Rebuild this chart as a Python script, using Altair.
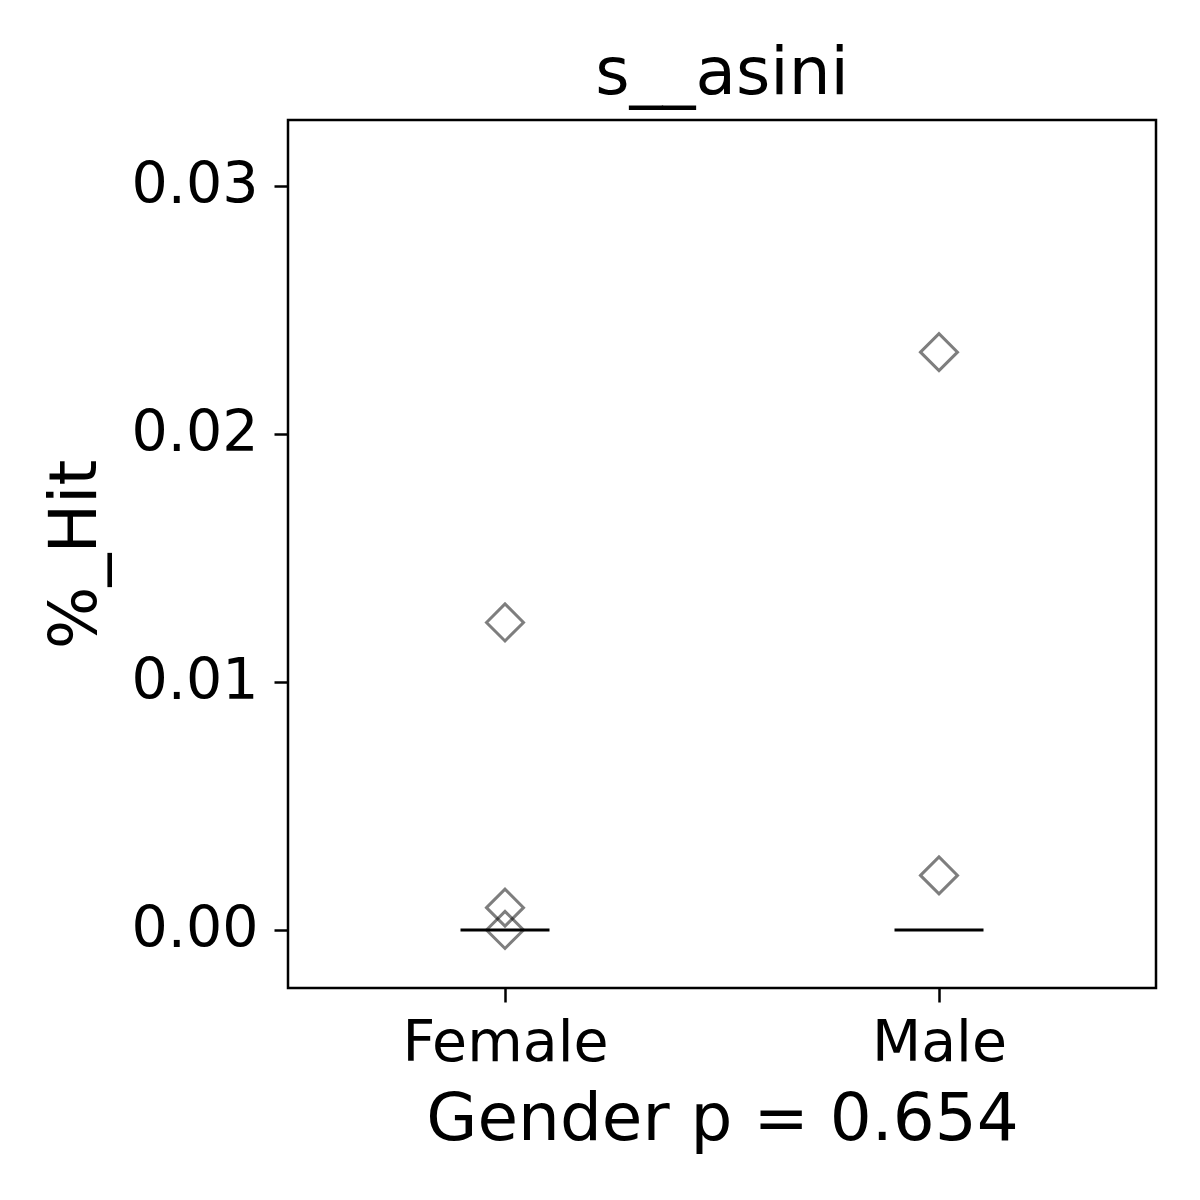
import altair as alt
import pandas as pd

# Data
groups = ["Female", "Female", "Female", "Male", "Male"]
hits = [0.0124, 0.0009, 0.0, 0.0233, 0.0022]
median_groups = ["Female", "Male"]
median_values = [0.0, 0.0]
y_ticks = [0.0, 0.01, 0.02, 0.03]
y_domain = [-0.00234, 0.03266]
categories = ["Female", "Male"]

title_text = "s__asini"
x_title = "Gender p = 0.654"
y_title = "%_Hit"

points_df = pd.DataFrame({"Gender": groups, "Hit": hits})
median_df = pd.DataFrame({"Gender": median_groups, "Hit": median_values})

FONT = "DejaVu Sans"

x_enc = alt.X(
    "Gender:N",
    scale=alt.Scale(type="point", domain=categories, padding=0.5),
    axis=alt.Axis(
        title=x_title,
        labelAngle=0,
        labelFontSize=57,
        labelColor="black",
        labelFont=FONT,
        labelLimit=0,
        labelPadding=13,
        tickSize=14,
        tickWidth=2.5,
        tickColor="black",
        domain=False,
        grid=False,
        titleFontSize=66,
        titleFont=FONT,
        titleFontWeight="normal",
        titleColor="black",
        titlePadding=16,
    ),
)

y_enc = alt.Y(
    "Hit:Q",
    scale=alt.Scale(domain=y_domain, nice=False, zero=False),
    axis=alt.Axis(
        title=y_title,
        values=y_ticks,
        format=".2f",
        labelFontSize=57,
        labelColor="black",
        labelFont=FONT,
        labelLimit=0,
        labelPadding=16,
        tickSize=14,
        tickWidth=2.5,
        tickColor="black",
        domain=False,
        grid=False,
        titleFontSize=66,
        titleFont=FONT,
        titleFontWeight="normal",
        titleColor="black",
        titlePadding=22,
    ),
)

points = alt.Chart(points_df).mark_point(
    shape="diamond",
    filled=False,
    size=1369,
    strokeWidth=3,
    color="black",
    opacity=0.5,
).encode(x=x_enc, y=y_enc)

medians = alt.Chart(median_df).mark_tick(
    size=89,
    thickness=3,
    color="black",
    opacity=1,
).encode(x=x_enc, y=y_enc)

chart = (
    alt.layer(medians, points)
    .properties(
        width=868,
        height=868,
        title=alt.TitleParams(
            text=title_text,
            fontSize=66,
            font=FONT,
            fontWeight="normal",
            color="black",
            anchor="middle",
            offset=12,
        ),
        autosize=alt.AutoSizeParams(type="none"),
        padding={"left": 280, "top": 112, "right": 30, "bottom": 180},
    )
    .configure(background="white")
    .configure_view(stroke="black", strokeWidth=2.5)
)

chart.save("out.html", embed_options={"renderer": "svg", "actions": False})
